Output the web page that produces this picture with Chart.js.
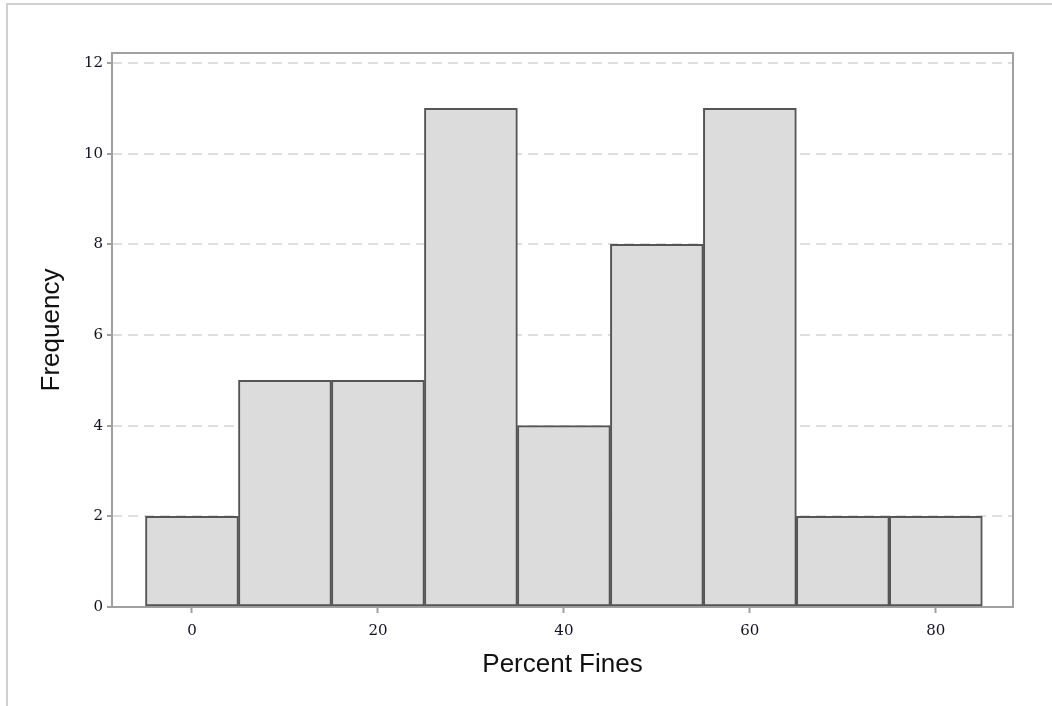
<!DOCTYPE html>
<html>
<head>
<meta charset="utf-8">
<script src="https://cdn.jsdelivr.net/npm/chart.js@4"></script>
<style>
  html, body { margin: 0; padding: 0; background: #fff; overflow: hidden; }
  #frame { position: absolute; left: 6px; top: 3px; width: 1100px; height: 760px;
           border-top: 2px solid #d0d0d0; border-left: 2px solid #d0d0d0; }
  #c { position: absolute; left: 0; top: 0; }
</style>
</head>
<body>
<div id="frame"></div>
<canvas id="c" width="1052" height="706"></canvas>
<script>
// ---- data ----
const binCenters = [0, 10, 20, 30, 40, 50, 60, 70, 80];
const frequencies = [2, 5, 5, 11, 4, 8, 11, 2, 2];
const xTickValues = [0, 20, 40, 60, 80];
const yTickValues = [0, 2, 4, 6, 8, 10, 12];
const xTitle = 'Percent Fines';
const yTitle = 'Frequency';

const framePlugin = {
  id: 'framePlugin',
  beforeDatasetsDraw(chart) {
    const {ctx, chartArea: a} = chart;
    ctx.save();
    ctx.strokeStyle = '#a0a0a0';
    ctx.lineWidth = 2;
    ctx.strokeRect(a.left, a.top, a.right - a.left, a.bottom - a.top);
    ctx.restore();
  }
};

const tickFont = { family: '"DejaVu Serif", serif', size: 15 };
const titleFont = { family: '"Liberation Sans", Arial, sans-serif', size: 26 };

new Chart(document.getElementById('c'), {
  type: 'bar',
  data: {
    datasets: [{
      data: binCenters.map((x, i) => ({ x: x, y: frequencies[i] })),
      backgroundColor: '#dcdcdc',
      borderColor: '#555555',
      borderWidth: 2,
      borderSkipped: false,
      barPercentage: 1,
      categoryPercentage: 1,
      grouped: false
    }]
  },
  plugins: [framePlugin],
  options: {
    responsive: false,
    animation: false,
    devicePixelRatio: 1,
    layout: { padding: { left: 0, top: 53, right: 39, bottom: 0 } },
    plugins: { legend: { display: false }, tooltip: { enabled: false } },
    scales: {
      x: {
        type: 'linear',
        offset: false,
        min: -8.6,
        max: 88.3,
        afterBuildTicks: s => { s.ticks = xTickValues.map(v => ({ value: v })); },
        afterFit: s => { s.height = 99; },
        border: { display: false },
        grid: { offset: false, drawOnChartArea: false, drawTicks: true, tickLength: 6,
                tickColor: '#a0a0a0', tickWidth: 2 },
        ticks: { font: tickFont, color: '#111122', padding: 9, maxRotation: 0 },
        title: { display: true, text: xTitle, font: titleFont, color: '#111',
                 padding: { top: 0, bottom: 26 } }
      },
      y: {
        min: 0,
        max: 12.22,
        afterBuildTicks: s => { s.ticks = yTickValues.map(v => ({ value: v })); },
        afterFit: s => { s.width = 112; },
        border: { display: false, dash: [10, 6] },
        grid: {
          color: c => (c.tick && c.tick.value === 0) ? 'rgba(0,0,0,0)' : '#dedede',
          lineWidth: 2,
          tickBorderDash: [],
          tickColor: '#a0a0a0',
          tickWidth: 2,
          tickLength: 5,
          drawTicks: true
        },
        ticks: { font: tickFont, color: '#111122', padding: 4 },
        title: { display: true, text: yTitle, font: titleFont, color: '#111',
                 padding: { top: 36, bottom: 0 } }
      }
    }
  }
});
</script>
</body>
</html>
